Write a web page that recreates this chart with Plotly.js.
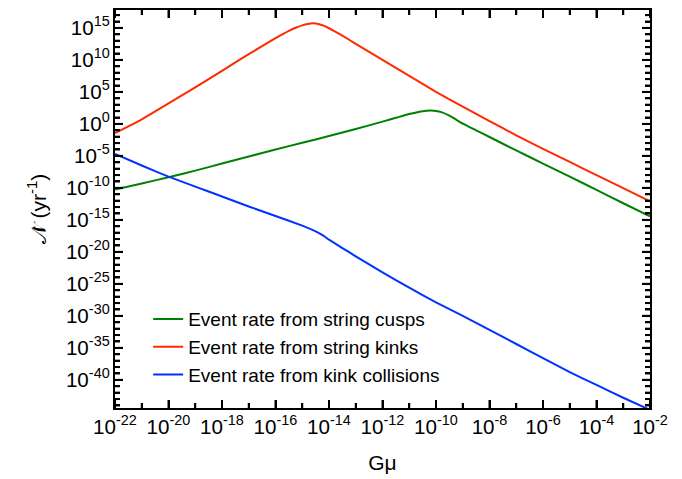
<!DOCTYPE html>
<html>
<head>
<meta charset="utf-8">
<script src="https://cdn.plot.ly/plotly-3.0.1.min.js"></script>
<style>html,body{margin:0;padding:0;background:#fff;}#chart{width:682px;height:479px;}</style>
</head>
<body>
<div id="chart"></div>
<script>
// log10(Gμ) sample points and log10(event rate, yr^-1)
const cuspsLogGmu = [-22,-21,-20,-19,-18,-17,-16,-15,-14,-13,-12,-11.5,-11,-10.7,-10.5,-10.2,-10,-9.8,-9.5,-9,-8.5,-8,-7,-6,-5,-4,-3,-2];
const cuspsLogRate = [-10.25,-9.3,-8.35,-7.3,-6.2,-5.1,-4.0,-2.95,-1.9,-0.8,0.35,0.95,1.55,1.82,1.98,2.08,2.03,1.84,1.28,0.05,-1.0,-2.05,-4.15,-6.2,-8.25,-10.3,-12.4,-14.45];

const kinksLogGmu = [-22,-21.5,-21,-20,-19,-18,-17,-16,-15.5,-15.2,-15,-14.8,-14.6,-14.4,-14.2,-14,-13.8,-13.5,-13,-12,-11,-10,-9,-8,-7,-6,-5,-4,-3,-2];
const kinksLogRate = [-1.45,-0.4,0.7,3.2,5.7,8.3,10.9,13.4,14.55,15.1,15.4,15.62,15.72,15.62,15.35,14.95,14.5,13.8,12.5,10.0,7.5,5.0,2.7,0.45,-1.8,-3.9,-5.95,-8.0,-10.05,-12.1];

const collLogGmu = [-22,-21,-20,-19,-18,-17,-16,-15,-14.5,-14.2,-14,-13.5,-13,-12,-11,-10,-9,-8,-7,-6,-5,-4,-3,-2];
const collLogRate = [-4.7,-6.5,-8.25,-9.8,-11.35,-12.9,-14.4,-15.9,-16.8,-17.5,-18.1,-19.4,-20.7,-23.2,-25.6,-27.9,-30.0,-32.2,-34.4,-36.6,-38.8,-40.8,-42.8,-44.7];

const seriesNames = ["Event rate from string cusps","Event rate from string kinks","Event rate from kink collisions"];
const seriesColors = ["#008000","#ff2a00","#0033ff"];

// labelled tick exponents
const xMajorExp = [-22,-20,-18,-16,-14,-12,-10,-8,-6,-4,-2];
const yMajorExp = [-40,-35,-30,-25,-20,-15,-10,-5,0,5,10,15];

const pow10 = a => a.map(v => Math.pow(10, v));
// show "10^-n" with a plain hyphen and "10^0" instead of "1"
const aliasFor = exps => {
  const m = {};
  exps.forEach(e => {
    if (e === 0) m['1'] = '10<sup>0</sup>';
    else if (e < 0) m['10<sup>\u2212' + (-e) + '</sup>'] = '10<sup>' + e + '</sup>';
  });
  return m;
};

const traces = [
  {x: pow10(cuspsLogGmu), y: pow10(cuspsLogRate)},
  {x: pow10(kinksLogGmu), y: pow10(kinksLogRate)},
  {x: pow10(collLogGmu), y: pow10(collLogRate)}
].map((t, i) => Object.assign(t, {
  type: 'scatter', mode: 'lines', name: seriesNames[i],
  line: {color: seriesColors[i], width: 2, shape: 'spline', smoothing: 0.3}
}));

// tick marks on all four sides (every decade; labelled decades longer)
const tickShapes = [];
const tl = {color: '#000', width: 2};
for (let e = -22; e <= -2; e++) {
  const len = xMajorExp.includes(e) ? 8 : 5, v = Math.pow(10, e);
  tickShapes.push({type: 'line', xref: 'x', yref: 'paper', ysizemode: 'pixel', yanchor: 0, x0: v, x1: v, y0: 0, y1: len, line: tl});
  tickShapes.push({type: 'line', xref: 'x', yref: 'paper', ysizemode: 'pixel', yanchor: 1, x0: v, x1: v, y0: 0, y1: -len, line: tl});
}
for (let e = -44; e <= 17; e++) {
  const len = yMajorExp.includes(e) ? 8 : 5, v = Math.pow(10, e);
  tickShapes.push({type: 'line', yref: 'y', xref: 'paper', xsizemode: 'pixel', xanchor: 0, y0: v, y1: v, x0: 0, x1: len, line: tl});
  tickShapes.push({type: 'line', yref: 'y', xref: 'paper', xsizemode: 'pixel', xanchor: 1, y0: v, y1: v, x0: 0, x1: -len, line: tl});
}

const fam = '"Liberation Sans", Arial, sans-serif';

const layout = {
  width: 682, height: 479,
  margin: {l: 115, r: 32, t: 10, b: 71},
  font: {family: fam, size: 16, color: '#000'},
  showlegend: true,
  legend: {x: 0.062, y: 0.271, xanchor: 'left', yanchor: 'top', bgcolor: 'rgba(0,0,0,0)',
           font: {family: fam, size: 19, color: '#000'}},
  shapes: tickShapes,
  xaxis: {
    type: 'log', range: [-22, -2], dtick: 2, exponentformat: 'power',
    ticks: 'inside', ticklen: 8, tickwidth: 2, tickcolor: '#000000',
    showline: true, linecolor: '#000', linewidth: 2, mirror: 'ticks',
    minor: {dtick: 1, ticks: 'inside', ticklen: 5, tickwidth: 2, tickcolor: '#000000'},
    gridcolor: 'rgba(0,0,0,0)',
    labelalias: aliasFor(xMajorExp),
    tickfont: {family: fam, size: 16.5},
    title: {text: 'Gμ', font: {family: fam, size: 21}, standoff: 18}
  },
  yaxis: {
    type: 'log', range: [-44.4, 17.8], dtick: 5, exponentformat: 'power',
    ticks: 'inside', ticklen: 8, tickwidth: 2, tickcolor: '#000000',
    showline: true, linecolor: '#000', linewidth: 2, mirror: 'ticks',
    minor: {dtick: 1, ticks: 'inside', ticklen: 5, tickwidth: 2, tickcolor: '#000000'},
    gridcolor: 'rgba(0,0,0,0)',
    labelalias: aliasFor(yMajorExp),
    tickfont: {family: fam, size: 16.5},
    title: {text: '𝒩̇ (yr<sup>-1</sup>)', font: {family: fam, size: 21}, standoff: 14}
  }
};

Plotly.newPlot('chart', traces, layout, {displayModeBar: false});
</script>
</body>
</html>
